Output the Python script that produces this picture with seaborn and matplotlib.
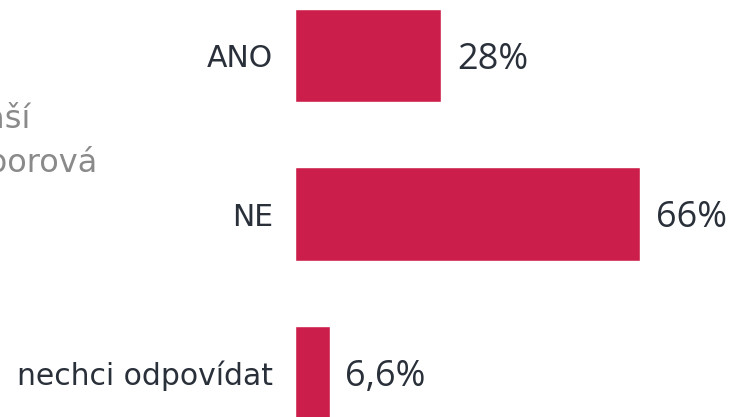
import matplotlib
matplotlib.use("Agg")
import matplotlib.pyplot as plt
import seaborn as sns
import pandas as pd

categories = ["ANO", "NE", "nechci odpovídat"]
values = [28, 66, 6.6]
value_labels = ["28%", "66%", "6,6%"]
side_text = ["naší", "podporová"]

df = pd.DataFrame({"kategorie": categories, "hodnota": values})

sns.set_theme(style="white")
plt.rcParams['font.family'] = ['DejaVu Sans']

W, H = 734, 417
fig = plt.figure(figsize=(W / 100, H / 100), dpi=100)
ax = fig.add_axes([295 / W, 0, (W - 295) / W, 1])

sns.barplot(data=df, x="hodnota", y="kategorie", orient="h", color="#CC1E4A",
            saturation=1, width=0.587, ax=ax)

ax.set_xlim(0, (W - 295) / 5.23)
top = -55.5 / 158.5
bottom = (H - 55.5) / 158.5
ax.set_ylim(bottom, top)

ax.set_xlabel("")
ax.set_ylabel("")
ax.set_xticks([])
ax.tick_params(axis="y", length=0, pad=16, labelsize=21.5, labelcolor="#2a303a")
for s in ax.spines.values():
    s.set_visible(False)

for i, (v, lab) in enumerate(zip(values, value_labels)):
    ax.annotate(lab, xy=(v, i), xytext=(11.5, -3), textcoords="offset points",
                ha="left", va="center", fontsize=26, color="#2a303a",
                family="Open Sans")

fig.text(30 / W, 1 - 128 / H, side_text[0], ha="right", va="baseline",
         fontsize=23, color="#8a8a8a")
fig.text(97 / W, 1 - 172 / H, side_text[1], ha="right", va="baseline",
         fontsize=23, color="#8a8a8a")

fig.savefig("out.png", dpi=100)
